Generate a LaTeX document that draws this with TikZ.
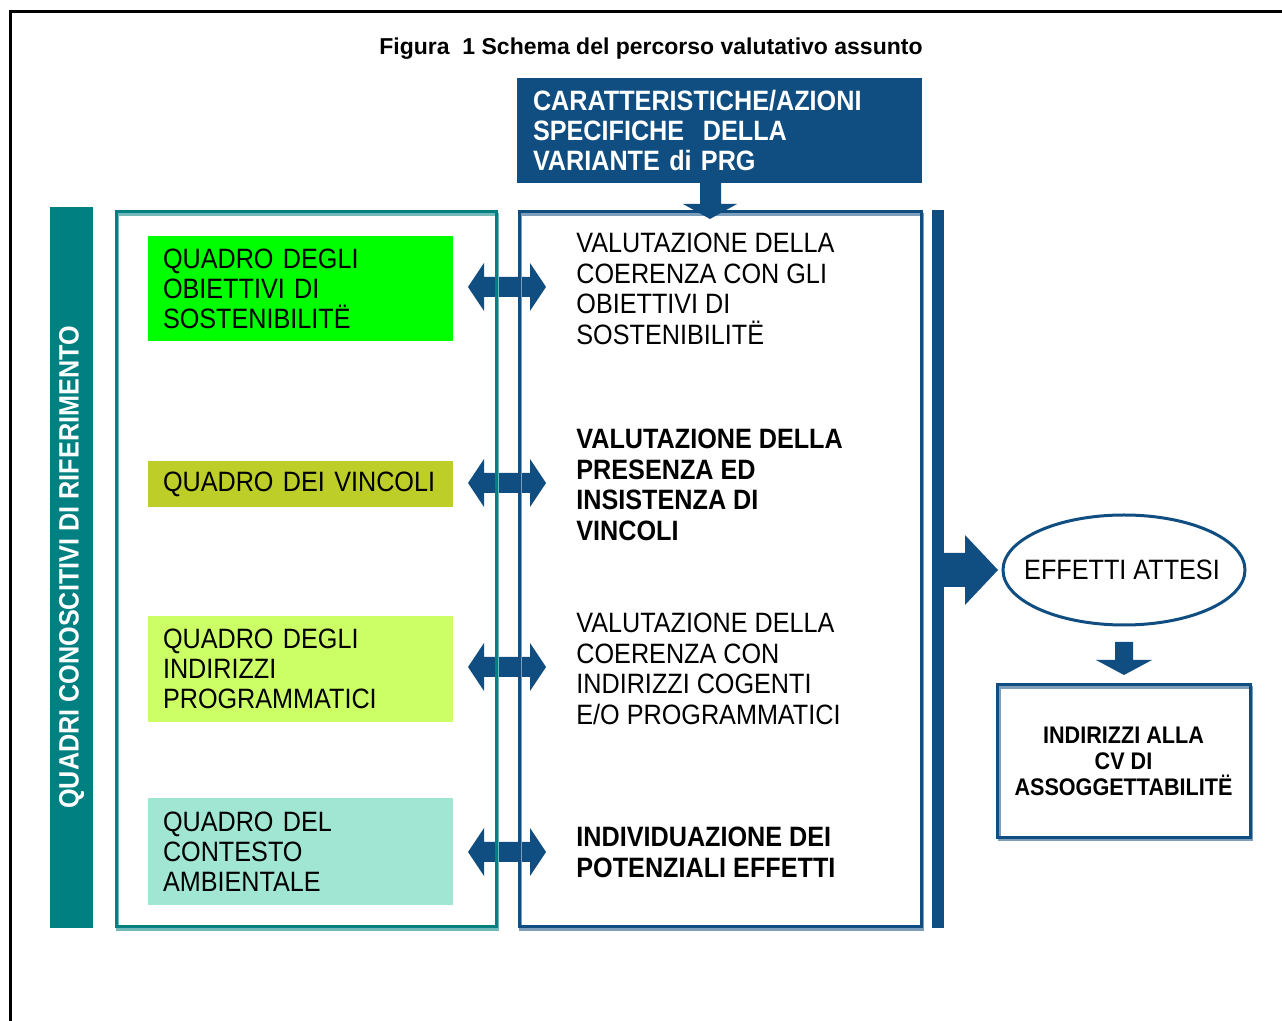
\documentclass[tikz,border=0pt]{standalone}
\usepackage{fontspec}
\setmainfont{Liberation Sans}[FakeStretch=0.9]
\newfontfamily\titlefont{Liberation Sans}
\definecolor{dblue}{RGB}{16,78,130}
\definecolor{tealc}{RGB}{0,128,128}
\definecolor{grA}{RGB}{0,255,0}
\definecolor{grB}{RGB}{190,206,40}
\definecolor{grC}{RGB}{204,255,102}
\definecolor{grD}{RGB}{160,230,210}
\newcommand\mydblarrow[2]{%
  \fill[dblue] (#1-39,#2) -- (#1-23,#2-24) -- (#1-23,#2-10) -- (#1+23,#2-10) -- (#1+23,#2-24)
    -- (#1+39,#2) -- (#1+23,#2+24) -- (#1+23,#2+10) -- (#1-23,#2+10) -- (#1-23,#2+24) -- cycle;}
\begin{document}
\begin{tikzpicture}[x=0.5pt,y=-0.5pt,
  bigtxt/.style={font=\fontsize{14}{15.25}\selectfont, align=left, inner sep=0pt, anchor=north west},
  qbox/.style={minimum width=152.5pt, text width=137.5pt, inner xsep=7.5pt, inner ysep=0pt,
    align=left, font=\fontsize{14}{15}\selectfont},
  frameline/.style={line width=1.5pt}]
\useasboundingbox (0,0) rectangle (1282,1021);
\fill[white] (0,0) rectangle (1282,1021);
\draw[line width=1.5pt] (10,1021) -- (10,12) -- (1282,12);

\node[font=\titlefont\fontsize{11.5}{13}\selectfont\bfseries] (title) at (651,49)
  {Figura\ \ 1 Schema del percorso valutativo assunto};

% double arrows (under frames)
\mydblarrow{507}{287}
\mydblarrow{507}{483}
\mydblarrow{507}{667}
\mydblarrow{507}{852}

% left bar
\node[fill=tealc, rotate=90, minimum width=360.5pt, minimum height=21.5pt, inner sep=0pt,
  text=white, font=\fontsize{14}{15}\selectfont\bfseries] (bar) at (71.5,567.5)
  {QUADRI CONOSCITIVI DI RIFERIMENTO};

% left frame
\draw[frameline, tealc!55] (117.5,214.5) rectangle (497.5,930);
\draw[frameline, tealc] (116.5,211.5) rectangle (496.5,927);

% coloured boxes
\node[qbox, fill=grA, minimum height=52.5pt] (q1) at (300.5,288.5)
  {QUADRO DEGLI\\OBIETTIVI DI\\SOSTENIBILITË};
\node[qbox, fill=grB, minimum height=23pt] (q2) at (300.5,484)
  {QUADRO DEI VINCOLI};
\node[qbox, fill=grC, minimum height=53pt] (q3) at (300.5,669)
  {QUADRO DEGLI\\INDIRIZZI\\PROGRAMMATICI};
\node[qbox, fill=grD, minimum height=53.5pt] (q4) at (300.5,851.5)
  {QUADRO DEL\\CONTESTO\\AMBIENTALE};

% middle frame
\draw[frameline, dblue!55] (520.5,214.5) rectangle (922,930);
\draw[frameline, dblue] (519.5,211.5) rectangle (921,927);
\fill[dblue] (932,210) rectangle (944,928);

% middle texts
\node[bigtxt] (v1) at (576,233)
  {VALUTAZIONE DELLA\\COERENZA CON GLI\\OBIETTIVI DI\\SOSTENIBILITË};
\node[bigtxt, font=\fontsize{14}{15.25}\selectfont\bfseries] (v2) at (576,429)
  {VALUTAZIONE DELLA\\PRESENZA ED\\INSISTENZA DI\\VINCOLI};
\node[bigtxt] (v3) at (576,613)
  {VALUTAZIONE DELLA\\COERENZA CON\\INDIRIZZI COGENTI\\E/O PROGRAMMATICI};
\node[bigtxt, font=\fontsize{14}{15.25}\selectfont\bfseries] (v4) at (576,827)
  {INDIVIDUAZIONE DEI\\POTENZIALI EFFETTI};

% top box
\node[fill=dblue, text=white, minimum width=202.5pt, minimum height=52.5pt, text width=186.5pt,
  inner xsep=8pt, inner ysep=0pt, align=left, font=\fontsize{14}{15}\selectfont\bfseries]
  (top) at (719.5,130.5) {CARATTERISTICHE/AZIONI\\SPECIFICHE\ \ DELLA\\VARIANTE di PRG};

% down arrow from top box
\fill[dblue] (700,183) -- (721,183) -- (721,204) -- (737,204) -- (710,219) -- (683,204) -- (700,204) -- cycle;

% right arrow
\fill[dblue] (944,553) -- (965,553) -- (965,535) -- (998,570) -- (965,605) -- (965,587) -- (944,587) -- cycle;

% ellipse
\node[inner sep=0pt, font=\fontsize{14}{15}\selectfont] (eff) at (1122,570) {EFFETTI ATTESI};
\draw[dblue, line width=1.5pt] (1124,570) ellipse [x radius=60.5pt, y radius=27.5pt];

% small down arrow
\fill[dblue] (1115,642) -- (1133,642) -- (1133,660) -- (1152,660) -- (1124,675) -- (1096,660) -- (1115,660) -- cycle;

% bottom-right box
\draw[frameline, dblue!55] (999,688) rectangle (1251,840);
\node[draw=dblue, line width=1.5pt, minimum width=126.5pt, minimum height=76.5pt, align=center,
  font=\fontsize{12}{13}\selectfont\bfseries] (ind) at (1123.5,761.5)
  {INDIRIZZI ALLA\\CV DI\\ASSOGGETTABILITË};
\end{tikzpicture}
\end{document}
